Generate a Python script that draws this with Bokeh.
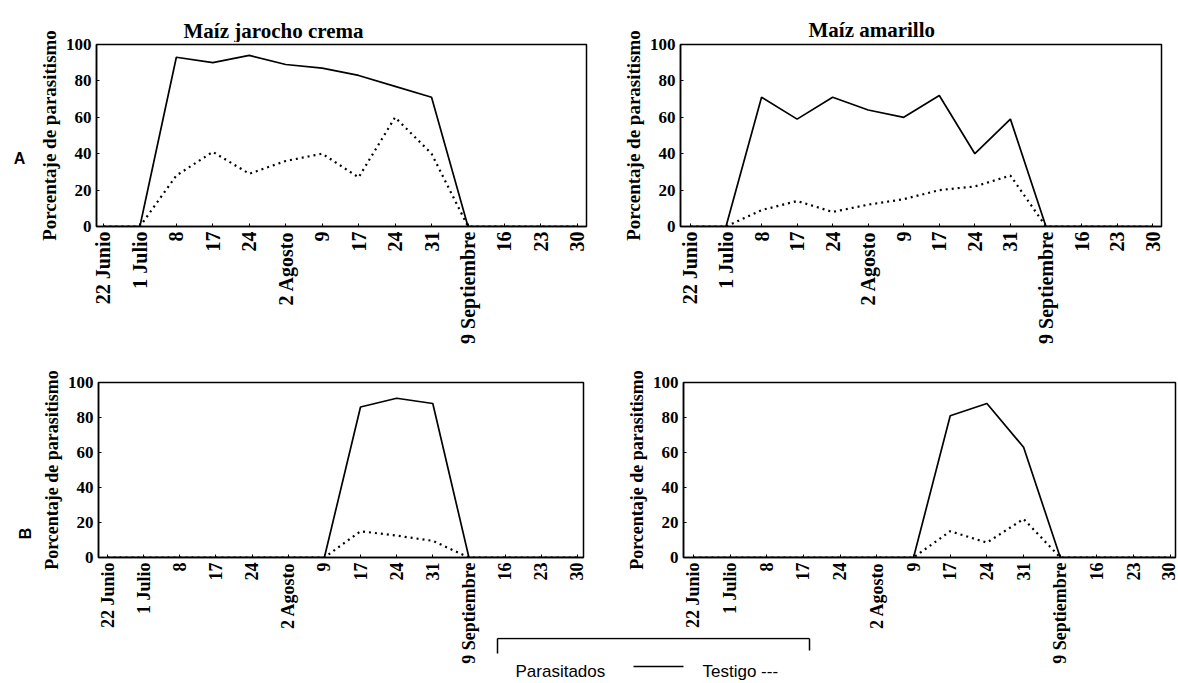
import math
from bokeh.plotting import figure
from bokeh.layouts import column, row
from bokeh.models import FixedTicker, Label, Range1d
from bokeh.embed import file_html
from bokeh.resources import INLINE

# ---------------- data ----------------
dates = ["22 Junio", "1 Julio", "8", "17", "24", "2 Agosto", "9", "17", "24",
         "31", "9 Septiembre", "16", "23", "30"]
x_idx = list(range(len(dates)))
y_ticks = [0, 20, 40, 60, 80, 100]

titles = ["Maíz jarocho crema", "Maíz amarillo"]
row_labels = ["A", "B"]
legend_names = ["Parasitados", "Testigo ---"]
y_label = "Porcentaje de parasitismo"

crema_A_parasitados = [0, 0, 93, 90, 94, 89, 87, 83, 77, 71, 0, 0, 0, 0]
crema_A_testigo = [0, 0, 28, 41, 29, 36, 40, 27, 60, 40, 0, 0, 0, 0]
amarillo_A_parasitados = [0, 0, 71, 59, 71, 64, 60, 72, 40, 59, 0, 0, 0, 0]
amarillo_A_testigo = [0, 0, 9, 14, 8, 12, 15, 20, 22, 28, 0, 0, 0, 0]
crema_B_parasitados = [0, 0, 0, 0, 0, 0, 0, 86, 91, 88, 0, 0, 0, 0]
crema_B_testigo = [0, 0, 0, 0, 0, 0, 0, 15, 12.5, 9.5, 0, 0, 0, 0]
amarillo_B_parasitados = [0, 0, 0, 0, 0, 0, 0, 81, 88, 63, 0, 0, 0, 0]
amarillo_B_testigo = [0, 0, 0, 0, 0, 0, 0, 15, 8.5, 22, 0, 0, 0, 0]

SERIF = "Liberation Serif"
SANS = "Liberation Sans"


def make_fig(page_left, page_top, width, height, frame, xr, xlab_size, ylab_size):
    L, R, T, B = frame
    p = figure(width=width, height=height, title=None,
               x_range=Range1d(*xr), y_range=Range1d(0, 100),
               output_backend="svg", toolbar_location=None,
               min_border_left=L - page_left,
               min_border_right=page_left + width - R,
               min_border_top=T - page_top,
               min_border_bottom=page_top + height - B)
    p.grid.visible = False
    p.background_fill_color = "white"
    p.border_fill_color = "white"
    p.outline_line_color = "black"
    p.outline_line_width = 1.5
    for ax in (p.xaxis[0], p.yaxis[0]):
        ax.major_label_text_font = SERIF
        ax.major_label_text_font_style = "bold"
        ax.major_label_text_color = "black"
        ax.axis_line_color = "black"
        ax.axis_line_width = 1.5
        ax.major_tick_line_color = "black"
        ax.major_tick_in = 3
        ax.major_tick_out = 0
        ax.minor_tick_line_color = None
        ax.major_label_standoff = 5
    p.xaxis.major_label_text_font_size = xlab_size
    p.yaxis.major_label_text_font_size = "17px"
    p.xaxis.ticker = FixedTicker(ticks=x_idx)
    p.xaxis.major_label_overrides = {i: d for i, d in zip(x_idx, dates)}
    p.xaxis.major_label_orientation = math.pi / 2
    p.yaxis.ticker = FixedTicker(ticks=y_ticks)
    p.yaxis.axis_label = y_label
    p.yaxis.axis_label_text_font = SERIF
    p.yaxis.axis_label_text_font_style = "bold"
    p.yaxis.axis_label_text_font_size = ylab_size
    p.yaxis.axis_label_text_color = "black"
    p.yaxis.axis_label_standoff = 3
    return p


def add_series(p, par, tes):
    p.line(x_idx, par, line_color="black", line_width=1.7)
    p.line(x_idx, tes, line_color="black", line_width=2.2, line_dash="2 4")


def text_fig(x0, x1, y0, y1, transparent=False, **kw):
    """A bare figure whose frame covers the whole canvas; coordinates are page pixels."""
    p = figure(width=x1 - x0, height=y1 - y0, title=None,
               x_range=Range1d(x0, x1), y_range=Range1d(y1, y0),
               x_axis_type=None, y_axis_type=None,
               output_backend="svg", toolbar_location=None,
               min_border=0, min_border_left=0, min_border_right=0,
               min_border_top=0, min_border_bottom=0, **kw)
    p.grid.visible = False
    p.outline_line_color = None
    if transparent:
        p.background_fill_alpha = 0
        p.border_fill_alpha = 0
    else:
        p.background_fill_color = "white"
        p.border_fill_color = "white"
    return p


def lab(p, x, y, text, font, size, style="normal", align="left",
        baseline="alphabetic", angle=0):
    p.add_layout(Label(x=x, y=y, text=text, text_font=font, text_font_size=size,
                       text_font_style=style, text_align=align, text_baseline=baseline,
                       text_color="black", angle=angle))


LW = 35    # right edge of the row-label column (page px)
ROW1 = 368  # height of the top row
PAGE_H = 683

# ---------------- row labels column ----------------
fl = text_fig(0, LW, 0, PAGE_H)
lab(fl, 19, 158, row_labels[0], SANS, "16px", "bold", "center", "middle")
lab(fl, 25, 533, row_labels[1], SANS, "16px", "bold", "center", "middle", math.pi / 2)

# ---------------- top row ----------------
f1 = make_fig(LW, 0, 590 - LW, ROW1, (93, 586, 44, 226), (-0.19, 13.25), "20px", "19px")
add_series(f1, crema_A_parasitados, crema_A_testigo)
f2 = make_fig(590, 0, 580, ROW1, (680, 1161, 44, 226), (-0.28, 13.25), "20px", "19px")
add_series(f2, amarillo_A_parasitados, amarillo_A_testigo)

# ---------------- titles (transparent overlay on the top row) ----------------
TT_H = 42
tt = text_fig(LW, 1170, 0, TT_H, transparent=True, margin=(-ROW1, 0, 0, 0))
lab(tt, 183, 30, titles[0], SERIF, "21px", "bold")
lab(tt, 808, 29, titles[1], SERIF, "21px", "bold")

# ---------------- bottom row ----------------
f3 = make_fig(LW, ROW1, 612 - LW, PAGE_H - ROW1, (98, 583, 382, 557), (-0.25, 13.17), "18px", "18px")
add_series(f3, crema_B_parasitados, crema_B_testigo)
f4 = make_fig(612, ROW1, 1178 - 612, PAGE_H - ROW1, (683, 1175, 381, 557), (-0.27, 13.14), "18px", "18px")
add_series(f4, amarillo_B_parasitados, amarillo_B_testigo)
bottom = row(f3, f4, margin=(ROW1 - TT_H, 0, 0, 0))

# ---------------- legend box (overlaid below the bottom panels) ----------------
LG_X0, LG_X1, LG_Y0, LG_Y1 = 489, 819, 637, PAGE_H
lg = text_fig(LG_X0, LG_X1, LG_Y0, LG_Y1,
              margin=(-(LG_Y1 - LG_Y0), 0, 0, LG_X0 - LW))
lg.segment(x0=[497, 497, 809, 633], y0=[638, 638, 638, 666],
           x1=[809, 497, 809, 683], y1=[638, 653, 650, 666],
           line_color="black", line_width=1.5)
lab(lg, 515, 671, legend_names[0], SANS, "17px")
lab(lg, 702, 671, legend_names[1], SANS, "17px")

main = column(row(f1, f2), tt, bottom, lg)
layout = row(fl, main)
open("out.html", "w").write(file_html(layout, INLINE))
